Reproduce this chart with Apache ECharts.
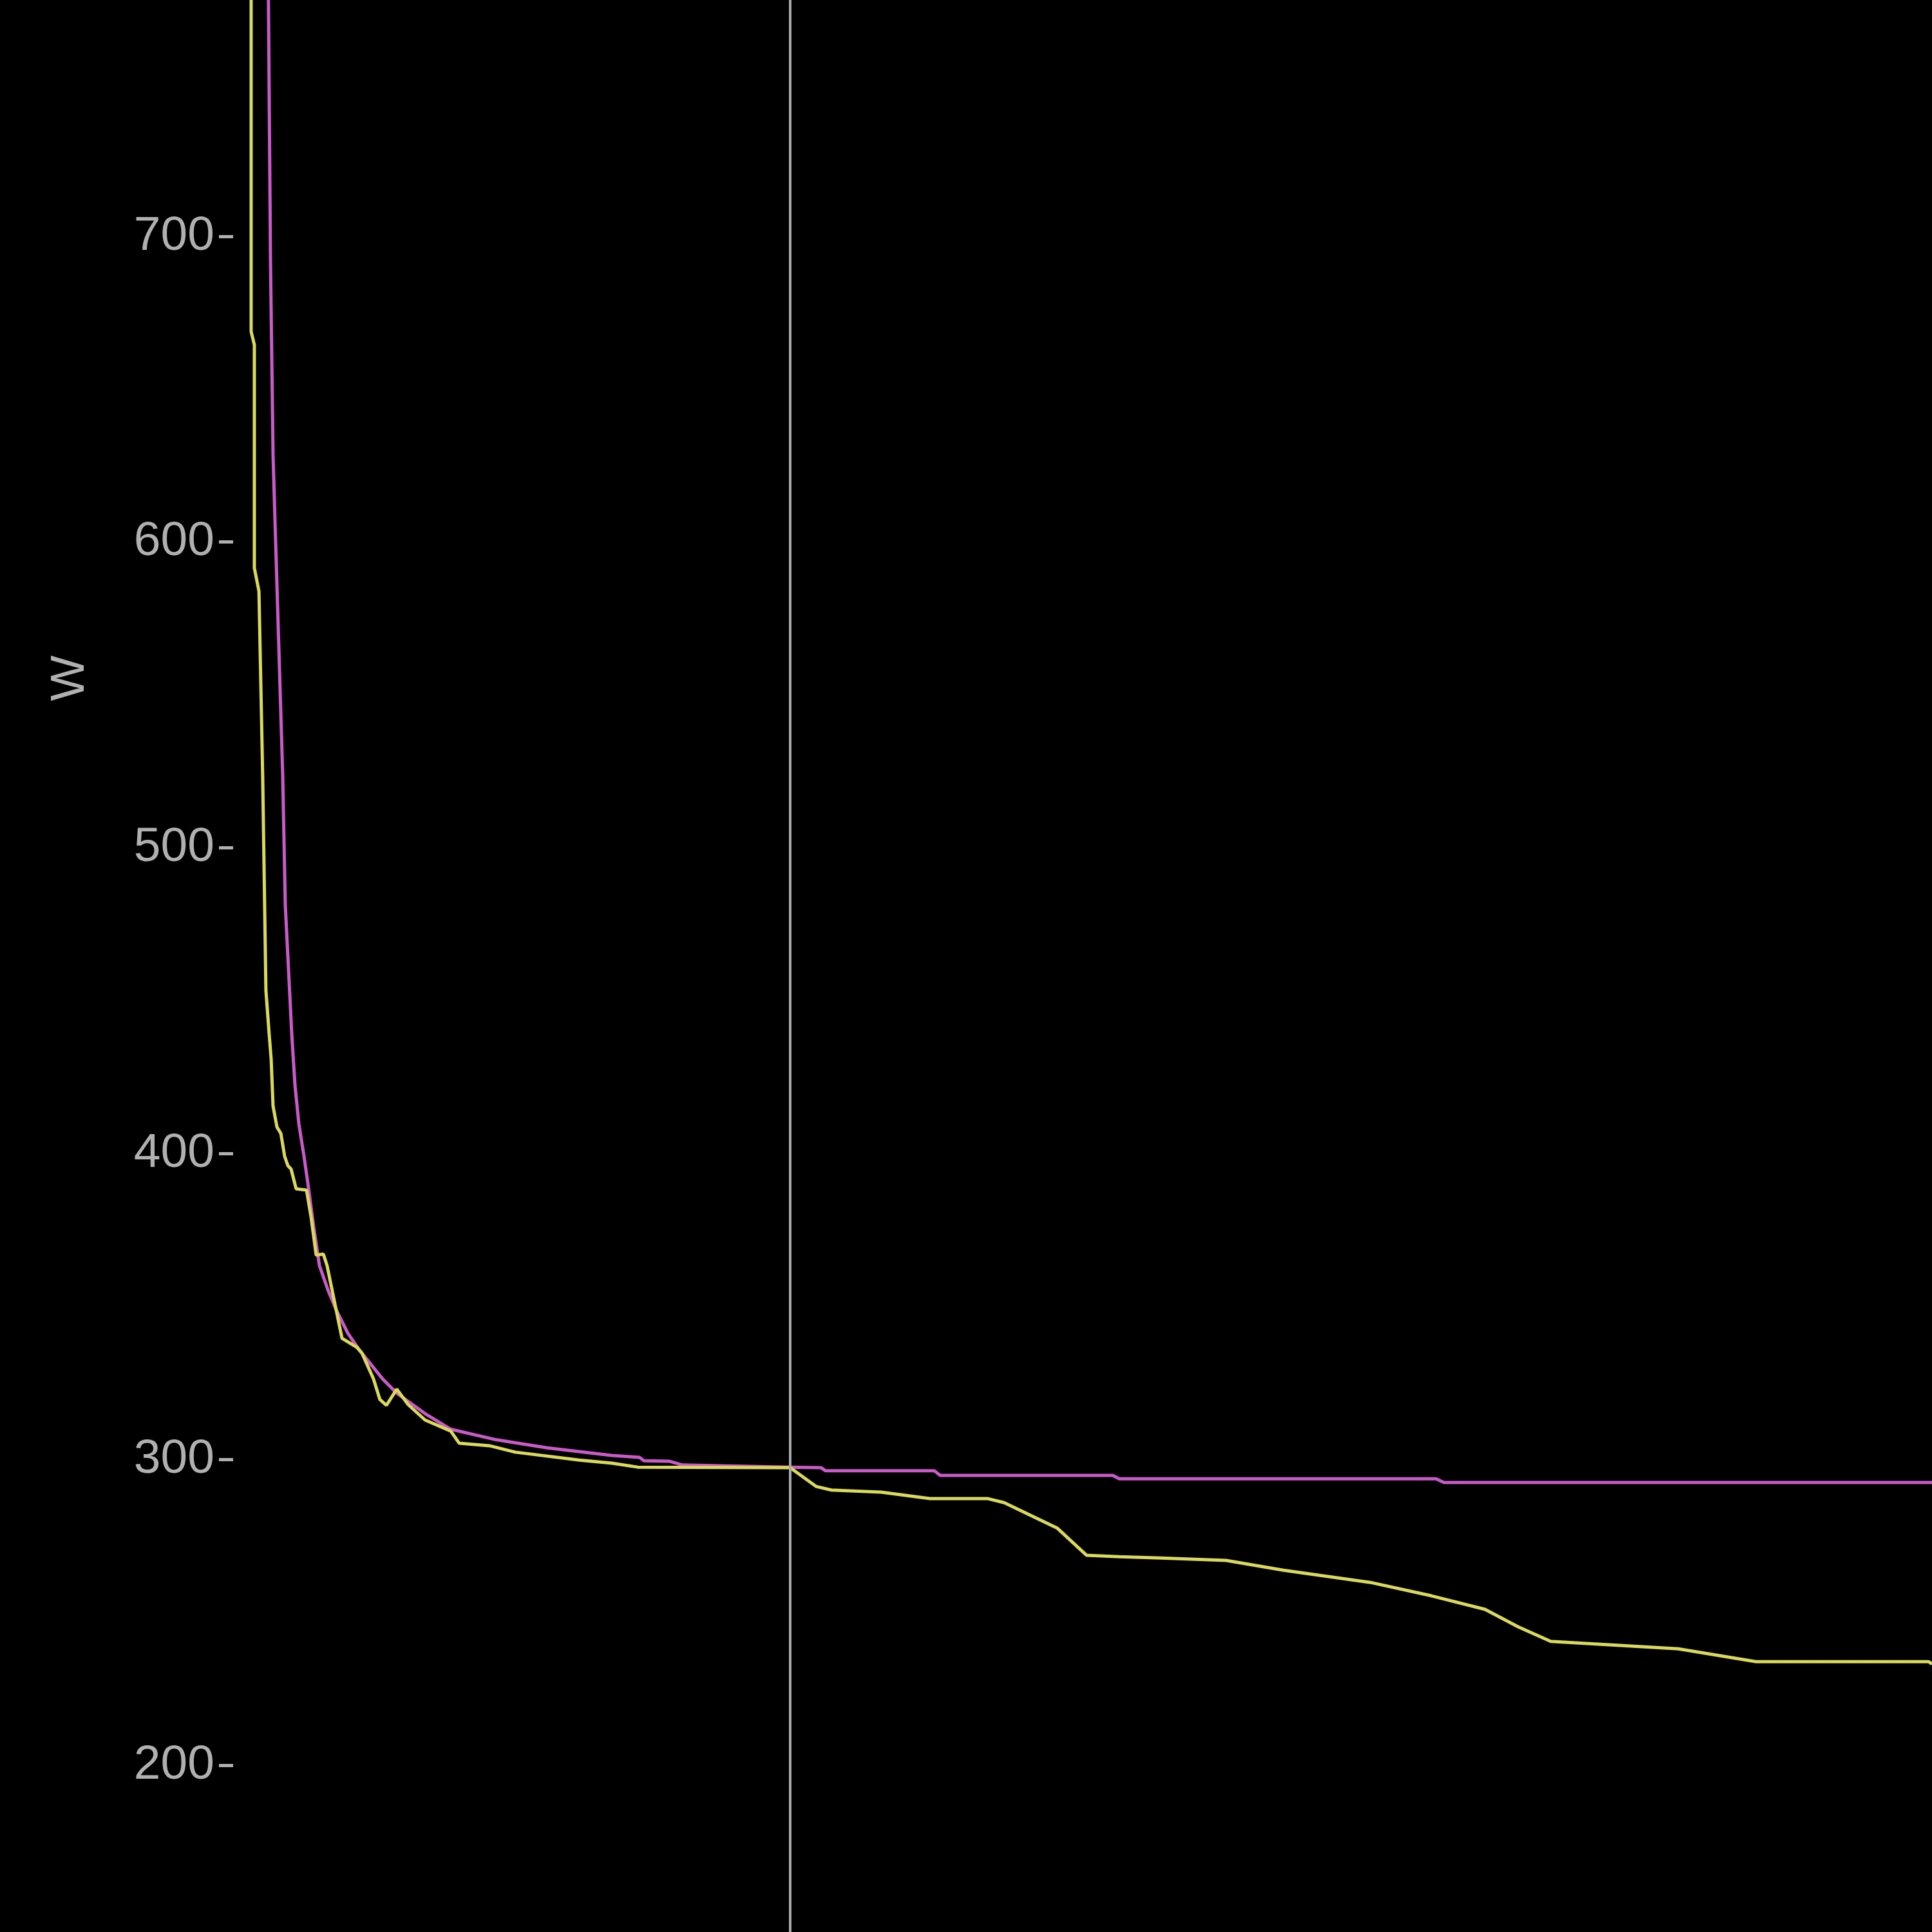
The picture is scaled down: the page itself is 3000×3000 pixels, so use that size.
<!DOCTYPE html>
<html>
<head>
<meta charset="utf-8">
<style>
  html, body { margin: 0; padding: 0; background: #000; }
  #chart { width: 3000px; height: 3000px; }
</style>
<script src="https://cdn.jsdelivr.net/npm/echarts@6/dist/echarts.min.js"></script>
</head>
<body>
<div id="chart"></div>
<script>
// Duration position (arbitrary hidden axis units) and power (W)
const yellowX = [10.6, 10.6, 12.5, 12.5, 15.2, 17.4, 18.2, 19.3, 21.2, 22.4, 23.5, 25.8, 28.1, 30.3, 32.2, 34.1, 37.1, 43.2, 45.9, 48.9, 53.1, 55.3, 64.1, 72.8, 75.8, 82.6, 86.4, 90.2, 96.3, 103.1, 113.0, 128.1, 133.1, 150.9, 166.0, 203.9, 222.9, 238.1, 327.9, 343.1, 352.2, 381.4, 410.2, 444.3, 453.8, 485.2, 502.3, 521.6, 545.9, 584.5, 618.3, 669.4, 705.5, 736.9, 756.3, 775.6, 850.6, 896.5, 998.1, 1000];
const yellowW = [800, 668.8, 664.5, 591.5, 583.9, 523.5, 494.0, 453.3, 439.2, 430.8, 415.6, 408.7, 406.6, 399.2, 396.1, 395.0, 388.5, 388.1, 379.2, 366.8, 367.2, 363.4, 339.6, 336.7, 334.8, 326.4, 319.6, 317.7, 323.0, 317.9, 312.9, 309.3, 305.3, 304.5, 302.4, 299.8, 298.8, 297.5, 297.3, 291.2, 290.0, 289.3, 287.2, 287.2, 285.9, 277.5, 268.7, 268.2, 267.8, 267.0, 263.8, 259.8, 255.4, 251.0, 245.3, 240.5, 238.1, 233.9, 233.9, 233.1];

const magentaX = [20.5, 20.8, 22.0, 23.5, 24.6, 26.9, 29.2, 30.7, 32.6, 34.5, 36.4, 38.7, 41.7, 44.4, 47.4, 50.8, 56.1, 60.7, 67.5, 74.3, 87.9, 96.3, 113.0, 128.1, 153.5, 185.0, 222.9, 239.2, 241.8, 257.0, 264.6, 327.9, 346.1, 348.7, 412.8, 416.2, 517.8, 521.6, 708.1, 712.7, 1000];
const magentaW = [800, 776.1, 691.9, 628.7, 607.7, 565.6, 523.5, 481.3, 460.3, 439.2, 422.4, 409.7, 399.2, 388.7, 376.1, 363.4, 355.0, 348.9, 341.3, 335.8, 326.4, 321.7, 315.0, 309.9, 306.6, 303.8, 301.3, 300.7, 299.6, 299.4, 298.2, 297.5, 297.3, 296.3, 296.3, 294.8, 294.8, 293.7, 293.7, 292.5, 292.5];

const cursorX = 327.9;
const yTickMin = 100;
const yTickStep = 100;
const yMax = 1011;
const yAxisName = 'W';

const pair = (xs, ys) => xs.map((x, i) => [x, ys[i]]);

const chart = echarts.init(document.getElementById('chart'), null, { renderer: 'canvas' });
chart.setOption({
  backgroundColor: '#000000',
  animation: false,
  grid: { left: 362, right: 0, top: -1110, bottom: -216, containLabel: false, outerBoundsMode: 'none' },
  xAxis: {
    type: 'value', min: 0, max: 1000, show: false
  },
  yAxis: {
    type: 'value',
    min: yTickMin, max: yMax, interval: yTickStep,
    name: yAxisName,
    nameLocation: 'middle',
    nameRotate: 90,
    nameGap: 215,
    nameMoveOverlap: false,
    nameTextStyle: { color: '#b0b0b0', fontSize: 75, fontFamily: 'Liberation Sans' },
    axisLine: { show: false },
    axisTick: { show: true, length: 22, lineStyle: { color: '#b0b0b0', width: 5 } },
    axisLabel: { color: '#b0b0b0', fontSize: 75, fontFamily: 'Liberation Sans', margin: 29 },
    splitLine: { show: false }
  },
  series: [
    {
      type: 'line', name: 'magenta', data: pair(magentaX, magentaW),
      showSymbol: false, symbol: 'none',
      lineStyle: { color: '#c95bc9', width: 5 },
      itemStyle: { color: '#c95bc9' }
    },
    {
      type: 'line', name: 'yellow', data: pair(yellowX, yellowW),
      showSymbol: false, symbol: 'none',
      lineStyle: { color: '#dbd95a', width: 5 },
      itemStyle: { color: '#dbd95a' },
      markLine: {
        silent: true, symbol: ['none', 'none'],
        label: { show: false },
        lineStyle: { color: '#a8a8a8', width: 4, type: 'solid' },
        data: [{ xAxis: cursorX }]
      }
    }
  ]
});
</script>
</body>
</html>
